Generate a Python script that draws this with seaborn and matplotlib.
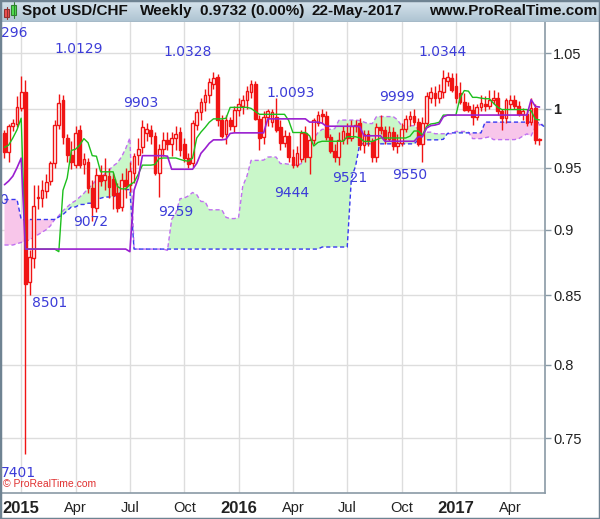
import numpy as np
import pandas as pd
import matplotlib
matplotlib.use("Agg")
import matplotlib.pyplot as plt
import matplotlib.dates as mdates
from matplotlib.patches import Rectangle
from matplotlib.ticker import NullLocator
import seaborn as sns

# weekly candles, first bar on this monday
first_week = "2014-12-08"

opens = [0.979, 0.963, 0.985, 0.987, 1.001, 1.015, 0.860, 0.878, 0.926, 0.925,
         0.931, 0.939, 0.954, 0.986, 1.008, 0.975, 0.961, 0.952, 0.982, 0.953,
         0.955, 0.933, 0.917, 0.944, 0.940, 0.943, 0.941, 0.929, 0.918, 0.940,
         0.936, 0.946, 0.961, 0.967, 0.979, 0.982, 0.977, 0.946, 0.966, 0.973,
         0.970, 0.975, 0.980, 0.970, 0.958, 0.954, 0.986, 0.997, 1.006, 1.012,
         1.022, 1.028, 0.990, 0.978, 0.990, 0.985, 0.999, 1.003, 1.008, 1.015,
         1.022, 0.991, 0.976, 0.993, 0.989, 0.993, 0.984, 0.971, 0.977, 0.959,
         0.952, 0.957, 0.979, 0.959, 0.973, 0.988, 0.995, 0.994, 0.976, 0.964,
         0.959, 0.973, 0.979, 0.975, 0.985, 0.988, 0.969, 0.978, 0.972, 0.959,
         0.984, 0.982, 0.974, 0.980, 0.968, 0.971, 0.983, 0.991, 0.994, 0.989,
         0.970, 0.988, 1.010, 1.014, 1.010, 1.015, 1.025, 1.027, 1.020, 1.014,
         1.006, 1.003, 0.999, 0.993, 1.002, 1.004, 1.003, 1.008, 1.010, 0.998,
         0.992, 1.004, 1.008, 1.003, 0.996, 0.996, 0.989, 1.001, 0.973]
highs = [0.982, 0.987, 0.991, 1.011, 1.0296, 1.0256, 0.884, 0.936, 0.936, 0.940,
         0.945, 0.956, 0.990, 1.0129, 1.012, 0.978, 0.972, 0.985, 0.986, 0.962,
         0.958, 0.940, 0.950, 0.952, 0.958, 0.950, 0.946, 0.937, 0.946, 0.950,
         0.955, 0.962, 0.975, 0.9903, 0.988, 0.986, 0.980, 0.970, 0.980, 0.980,
         0.980, 0.985, 0.984, 0.975, 0.962, 0.990, 1.000, 1.010, 1.018, 1.027,
         1.0328, 1.031, 0.995, 0.995, 0.993, 1.003, 1.010, 1.012, 1.020, 1.0257,
         1.025, 0.995, 0.998, 1.000, 1.000, 1.0093, 0.990, 0.982, 0.980, 0.966,
         0.968, 0.982, 0.985, 0.976, 0.992, 0.998, 1.000, 0.998, 0.978, 0.970,
         0.980, 0.985, 0.988, 0.990, 0.990, 0.992, 0.982, 0.982, 0.975, 0.988,
         0.995, 0.985, 0.985, 0.984, 0.978, 0.988, 0.995, 0.998, 0.9999, 0.992,
         0.993, 1.015, 1.019, 1.020, 1.022, 1.0344, 1.033, 1.032, 1.032, 1.024,
         1.014, 1.006, 1.004, 1.004, 1.012, 1.011, 1.017, 1.017, 1.015, 1.000,
         1.010, 1.012, 1.012, 1.007, 1.001, 1.000, 1.010, 1.004, 0.975]
lows = [0.958, 0.955, 0.981, 0.984, 0.998, 0.7401, 0.8501, 0.870, 0.916, 0.918,
        0.925, 0.936, 0.950, 0.983, 0.970, 0.955, 0.949, 0.950, 0.950, 0.945,
        0.929, 0.9072, 0.914, 0.935, 0.932, 0.925, 0.916, 0.914, 0.915, 0.925,
        0.930, 0.937, 0.952, 0.962, 0.972, 0.970, 0.944, 0.9259, 0.960, 0.965,
        0.960, 0.965, 0.960, 0.955, 0.950, 0.951, 0.982, 0.990, 0.998, 1.005,
        1.018, 0.985, 0.975, 0.970, 0.982, 0.980, 0.994, 0.996, 1.000, 1.010,
        0.990, 0.965, 0.970, 0.985, 0.984, 0.980, 0.965, 0.967, 0.955, 0.950,
        0.951, 0.955, 0.955, 0.9444, 0.970, 0.985, 0.988, 0.973, 0.962, 0.955,
        0.9521, 0.970, 0.970, 0.972, 0.980, 0.965, 0.962, 0.968, 0.955, 0.955,
        0.978, 0.970, 0.972, 0.965, 0.962, 0.968, 0.980, 0.985, 0.986, 0.968,
        0.955, 0.985, 1.005, 1.003, 1.005, 1.010, 1.020, 1.015, 1.005, 1.004,
        0.998, 0.997, 0.986, 0.990, 0.998, 0.998, 1.000, 1.004, 0.995, 0.982,
        0.988, 1.000, 1.000, 0.994, 0.990, 0.985, 0.986, 0.970, 0.969]
closes = [0.963, 0.985, 0.988, 1.002, 1.015, 0.858, 0.879, 0.919, 0.925, 0.932,
          0.938, 0.954, 0.986, 1.0055, 0.976, 0.961, 0.955, 0.979, 0.952, 0.957,
          0.933, 0.918, 0.944, 0.939, 0.944, 0.934, 0.928, 0.917, 0.940, 0.935,
          0.947, 0.960, 0.966, 0.984, 0.983, 0.977, 0.946, 0.966, 0.973, 0.970,
          0.975, 0.978, 0.965, 0.958, 0.953, 0.988, 0.997, 1.006, 1.012, 1.024,
          1.027, 0.990, 0.977, 0.990, 0.985, 0.999, 1.004, 1.008, 1.016, 1.022,
          0.991, 0.975, 0.993, 0.998, 0.997, 0.982, 0.971, 0.977, 0.959, 0.952,
          0.962, 0.979, 0.959, 0.973, 0.990, 0.995, 0.994, 0.976, 0.964, 0.959,
          0.973, 0.981, 0.975, 0.985, 0.986, 0.969, 0.978, 0.972, 0.959, 0.984,
          0.982, 0.974, 0.980, 0.968, 0.971, 0.983, 0.991, 0.994, 0.989, 0.970,
          0.988, 1.011, 1.015, 1.010, 1.016, 1.027, 1.028, 1.017, 1.010, 1.006,
          0.999, 0.999, 0.993, 1.002, 1.005, 1.003, 1.008, 1.010, 0.998, 0.992,
          1.008, 1.008, 1.003, 0.996, 0.998, 0.988, 1.001, 0.973, 0.9732]

tenkan_start = [0.967, 0.969, 0.975, 0.982, 0.992]
kijun_start = [0.936, 0.939, 0.943, 0.950, 0.958]
span_a_start = [0.888, 0.888, 0.888, 0.889, 0.890, 0.891, 0.892, 0.894, 0.896, 0.898,
                0.900, 0.903, 0.908, 0.911, 0.915, 0.918, 0.921, 0.923, 0.926, 0.929,
                0.933, 0.936, 0.940, 0.942, 0.945, 0.948]
span_b_start = [0.924, 0.924, 0.924, 0.924, 0.908, 0.908, 0.908, 0.908, 0.908, 0.908,
                0.908, 0.908, 0.908, 0.910, 0.912, 0.915, 0.918, 0.918, 0.920, 0.920,
                0.921, 0.921, 0.924, 0.925, 0.926, 0.926, 0.926, 0.928, 0.930, 0.932,
                0.932]

price_ticks = [0.75, 0.8, 0.85, 0.9, 0.95, 1.0, 1.05]
price_labels = ["0.75", "0.8", "0.85", "0.9", "0.95", "1", "1.05"]
date_ticks = ["2015-01-05", "2015-04-06", "2015-07-06", "2015-10-05", "2016-01-04",
              "2016-04-04", "2016-07-04", "2016-10-03", "2017-01-02", "2017-04-03"]
date_labels = ["2015", "Apr", "Jul", "Oct", "2016", "Apr", "Jul", "Oct", "2017", "Apr"]

# high / low annotations (text, centre date, price)
note_text = ["296", "1.0129", "9903", "1.0328", "1.0093", "9999", "1.0344",
             "0", "9072", "9259", "9444", "9521", "9550", "8501", "7401"]
note_date = ["2014-12-25", "2015-04-11", "2015-07-24", "2015-10-11", "2016-03-31",
             "2016-09-25", "2016-12-11", "2014-12-06", "2015-05-01", "2015-09-21",
             "2016-04-02", "2016-07-08", "2016-10-17", "2015-02-21", "2014-12-31"]
note_price = [1.0686, 1.0538, 1.0052, 1.0511, 1.0141, 1.0105, 1.0511,
              0.9236, 0.9061, 0.9141, 0.9293, 0.9415, 0.9440, 0.8441, 0.7277]

RED = "#f01414"
sns.set_theme(style="white")
plt.rcParams["font.family"] = ["DejaVu Sans"]

n = len(closes)
weeks = pd.date_range(first_week, periods=n, freq="7D")
ahead = pd.date_range(first_week, periods=n + 26, freq="7D")
df = pd.DataFrame({"date": weeks, "open": opens, "high": highs, "low": lows, "close": closes})

hi, lo = df["high"], df["low"]
tenkan = (hi.rolling(9, min_periods=1).max() + lo.rolling(9, min_periods=1).min()) / 2
kijun = (hi.rolling(26, min_periods=1).max() + lo.rolling(26, min_periods=1).min()) / 2
tenkan.iloc[:5] = tenkan_start
kijun.iloc[:5] = kijun_start
mid52 = (hi.rolling(52, min_periods=1).max() + lo.rolling(52, min_periods=1).min()) / 2
span_a = np.r_[span_a_start, ((tenkan + kijun) / 2).values]
span_b = np.r_[span_b_start, mid52.values[5:]]

fig = plt.figure(figsize=(6.0, 5.19), dpi=100)
ax = fig.add_axes([0.0, 0.0501, 0.9083, 0.9075])
ax.set_yscale("log")

# cloud
ax.fill_between(ahead, span_a, span_b, where=span_a >= span_b, interpolate=True,
                color="#c9f7c9", lw=0, zorder=1)
ax.fill_between(ahead, span_a, span_b, where=span_a < span_b, interpolate=True,
                color="#f8c6ea", lw=0, zorder=1)
sns.lineplot(x=ahead, y=span_a, ax=ax, color="#c070f0", lw=1, linestyle=(0, (3, 2)), zorder=2)
sns.lineplot(x=ahead, y=span_b, ax=ax, color="#3838f0", lw=1, linestyle=(0, (3, 2)), zorder=2)

# candles
xd = mdates.date2num(df["date"])
ax.vlines(xd, df["low"], df["high"], color=RED, lw=1, zorder=3)
up = df["close"] >= df["open"]
body_lo = np.minimum(df["open"], df["close"])
body_h = np.maximum(np.abs(df["close"] - df["open"]), 0.0012)
ax.bar(xd, body_h, bottom=body_lo, width=4.6, color=np.where(up, "white", RED),
       edgecolor=RED, lw=1, zorder=4)

sns.lineplot(x=weeks, y=tenkan.values, ax=ax, color="#1cbf1c", lw=1, zorder=5)
sns.lineplot(x=weeks, y=kijun.values, ax=ax, color="#9a1fd0", lw=1.2, zorder=5)

for t, d, p in zip(note_text, note_date, note_price):
    ax.text(pd.Timestamp(d), p, t, color="#3c3cd8", fontsize=10, ha="center",
            va="center", zorder=6)

ax.text(0.006, 0.012, "© ProRealTime.com", transform=ax.transAxes, color="#e03030",
        fontsize=7.5, family="Liberation Sans", zorder=7)

ax.set_xlim(pd.Timestamp("2014-11-30 12:00"), pd.Timestamp("2017-05-31 05:00"))
ax.set_ylim(0.7151, 1.0789)
ax.set_xlabel("")
ax.set_ylabel("")
ax.yaxis.tick_right()
ax.set_yticks(price_ticks)
ax.set_yticklabels(price_labels)
ax.yaxis.set_minor_locator(NullLocator())
ax.set_xticks(pd.to_datetime(date_ticks))
ax.set_xticklabels(date_labels)
ax.tick_params(axis="both", direction="out", length=4, width=1, color="#8a9aa6",
               labelsize=10.5, labelcolor="#222222", pad=2)
for lab in ax.get_yticklabels() + ax.get_xticklabels():
    lab.set_family("Liberation Sans")
    if lab.get_text() in ("1", "2015", "2016", "2017"):
        lab.set_fontweight("bold")
for lab in ax.get_xticklabels():
    if lab.get_text() in ("2015", "2016", "2017"):
        lab.set_fontsize(12)
ax.grid(True, color="#dddddd", lw=1)
ax.set_axisbelow(True)
for side in ("top", "left"):
    ax.spines[side].set_visible(False)
for side in ("right", "bottom"):
    ax.spines[side].set_color("#8a9aa6")
    ax.spines[side].set_linewidth(1.2)

# header bar
hx = fig.add_axes([0, 1 - 22 / 519, 1, 22 / 519])
grad = np.linspace(0, 1, 50).reshape(-1, 1)
hx.imshow(grad, aspect="auto", extent=(0, 600, 0, 22),
          cmap=matplotlib.colors.LinearSegmentedColormap.from_list("h", ["#d8e5ee", "#adc3d1"]))
hx.set_xlim(0, 600)
hx.set_ylim(0, 22)
hx.axis("off")
hx.add_patch(Rectangle((4, 5), 5, 8, facecolor="#f05050", edgecolor="#903030", lw=0.8))
hx.add_patch(Rectangle((11, 7), 5, 10, facecolor="#50e050", edgecolor="#308030", lw=0.8))
hx.plot([6.5, 6.5], [3, 15], color="#903030", lw=0.8)
hx.plot([13.5, 13.5], [4, 20], color="#308030", lw=0.8)
hfont = dict(fontsize=11, fontweight="bold", family="Liberation Sans", color="#111111", va="center")
hx.text(22, 10.5, "Spot USD/CHF", **hfont)
hx.text(140, 10.5, "Weekly", **hfont)
hx.text(200, 10.5, "0.9732 (0.00%)", **hfont)
hx.text(312, 10.5, "22-May-2017", **hfont)
hx.text(597, 10.5, "www.ProRealTime.com", ha="right", **hfont)
hx.axhline(0.3, color="#8a9aa6", lw=1)

fig.patches.append(Rectangle((0, 0), 1, 1, transform=fig.transFigure, fill=False,
                             edgecolor="#6f8392", lw=2.5))

fig.savefig("out.png", dpi=100)
